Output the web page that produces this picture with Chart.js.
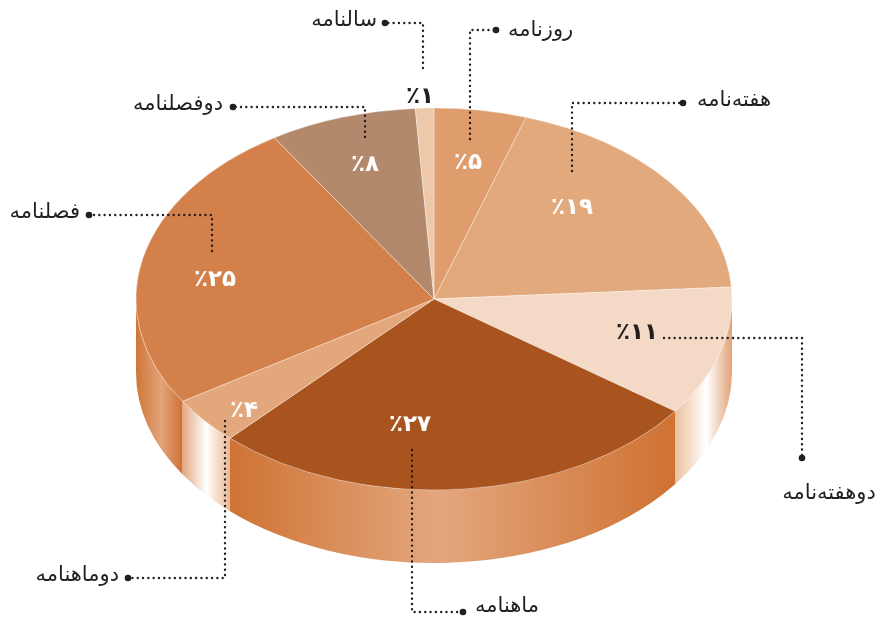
<!DOCTYPE html>
<html>
<head>
<meta charset="utf-8">
<script src="https://cdn.jsdelivr.net/npm/chart.js@4/dist/chart.umd.min.js"></script>
<style>
  html, body { margin: 0; background: #fff; }
  #wrap { width: 881px; height: 621px; }
</style>
</head>
<body>
<div id="wrap"><canvas id="myChart"></canvas></div>
<script>
// data, clockwise from 12 o'clock
var categories = ["روزنامه", "هفته‌نامه", "دوهفته‌نامه", "ماهنامه", "دوماهنامه", "فصلنامه", "دوفصلنامه", "سالنامه"];
var shares = [5, 19, 11, 27, 4, 25, 8, 1];

// styles
var topColors = ["#DF9D6D", "#E2A97D", "#F3D9C6", "#A9531E", "#E2A87B", "#D4804A", "#B2896B", "#EEC9A9"];
var sideStops = [
  [[0, "#DF9D6D"], [1, "#DF9D6D"]],
  [[0, "#E2A97D"], [1, "#E2A97D"]],
  [[0, "#EBC09F"], [0.55, "#FFFFFF"], [1, "#E1A377"]],
  [[0, "#CF7335"], [0.47, "#E3A77D"], [1, "#CF7132"]],
  [[0, "#E3A67D"], [0.5, "#FFFFFF"], [1, "#E8B995"]],
  [[0, "#D07638"], [0.55, "#E2A47A"], [1, "#CE7033"]],
  [[0, "#B2896B"], [1, "#B2896B"]],
  [[0, "#EEC9A9"], [1, "#EEC9A9"]]
];
var darkText = [false, false, true, false, false, false, false, true];

// label layout: percent text position, callout path, name anchor
var pctPos = [[468, 163], [572, 208], [637, 333], [410, 425], [244, 411], [215, 280], [365, 165], [420, 97]];
var callouts = [
  [[470, 139], [470, 30], [496, 30]],
  [[572, 171], [572, 103], [683, 103]],
  [[664, 338], [802, 338], [802, 458]],
  [[412, 450], [412, 612], [463, 612]],
  [[225, 421], [225, 578], [128, 578]],
  [[212, 251], [212, 215], [89, 215]],
  [[365, 137], [365, 107], [233, 107]],
  [[423, 68], [423, 23], [385, 23]]
];
var namePos = [[508, 31, "left"], [697, 101, "left"], [829, 494, "center"], [475, 607, "left"],
               [119, 576, "right"], [80, 213, "right"], [223, 105, "right"], [377, 21, "right"]];

var CY = 299, TILT = 191 / 298, DEPTH = 73;

function faDigits(n) {
  return String(n).replace(/[0-9]/g, function (d) { return "۰۱۲۳۴۵۶۷۸۹"[d]; });
}

var pie3d = {
  id: "pie3d",
  beforeDatasetsDraw: function (chart) {
    var ctx = chart.ctx;
    var arcs = chart.getDatasetMeta(0).data;
    // side walls for the front half
    arcs.forEach(function (arc, i) {
      var a0 = Math.max(arc.startAngle, 0);
      var a1 = Math.min(arc.endAngle, Math.PI);
      if (a1 <= a0) return;
      var r = arc.outerRadius, ry = r * TILT;
      var xl = arc.x + r * Math.cos(a1), xr = arc.x + r * Math.cos(a0);
      var g = ctx.createLinearGradient(xl, 0, xr, 0);
      sideStops[i].forEach(function (s) { g.addColorStop(s[0], s[1]); });
      ctx.beginPath();
      ctx.ellipse(arc.x, CY, r, ry, 0, a0, a1);
      ctx.ellipse(arc.x, CY + DEPTH, r, ry, 0, a1, a0, true);
      ctx.closePath();
      ctx.fillStyle = g;
      ctx.fill();
    });
    // squash the pie into an ellipse
    ctx.save();
    ctx.translate(0, CY);
    ctx.scale(1, TILT);
    ctx.translate(0, -arcs[0].y);
  },
  afterDatasetsDraw: function (chart) {
    chart.ctx.restore();
  },
  afterDraw: function (chart) {
    var ctx = chart.ctx;
    ctx.save();
    // callout lines
    ctx.strokeStyle = "#231F20";
    ctx.fillStyle = "#231F20";
    ctx.lineWidth = 2.4;
    ctx.lineCap = "round";
    ctx.setLineDash([0.01, 5.3]);
    callouts.forEach(function (p) {
      ctx.beginPath();
      ctx.moveTo(p[0][0], p[0][1]);
      for (var k = 1; k < p.length; k++) ctx.lineTo(p[k][0], p[k][1]);
      ctx.stroke();
      var e = p[p.length - 1];
      ctx.beginPath();
      ctx.arc(e[0], e[1], 3.3, 0, Math.PI * 2);
      ctx.fill();
    });
    ctx.setLineDash([]);
    ctx.textBaseline = "middle";
    // percentages
    ctx.direction = "ltr";
    ctx.textAlign = "center";
    ctx.font = "bold 23px 'DejaVu Sans'";
    shares.forEach(function (v, i) {
      ctx.fillStyle = darkText[i] ? "#231F20" : "#FFFFFF";
      ctx.fillText("٪" + faDigits(v), pctPos[i][0], pctPos[i][1]);
    });
    // category names
    ctx.direction = "rtl";
    ctx.font = "21px 'DejaVu Sans'";
    ctx.fillStyle = "#231F20";
    categories.forEach(function (c, i) {
      ctx.textAlign = namePos[i][2];
      ctx.fillText(c, namePos[i][0], namePos[i][1]);
    });
    ctx.restore();
  }
};

new Chart(document.getElementById("myChart"), {
  type: "pie",
  data: {
    labels: categories,
    datasets: [{
      data: shares,
      backgroundColor: topColors,
      borderColor: "rgba(255,255,255,0.55)",
      borderWidth: 0.8,
      radius: 298,
      clip: false
    }]
  },
  options: {
    responsive: true,
    maintainAspectRatio: false,
    animation: false,
    events: [],
    layout: { padding: { left: 0, right: 13, top: 0, bottom: 0 } },
    plugins: { legend: { display: false }, tooltip: { enabled: false } }
  },
  plugins: [pie3d]
});
</script>
</body>
</html>
